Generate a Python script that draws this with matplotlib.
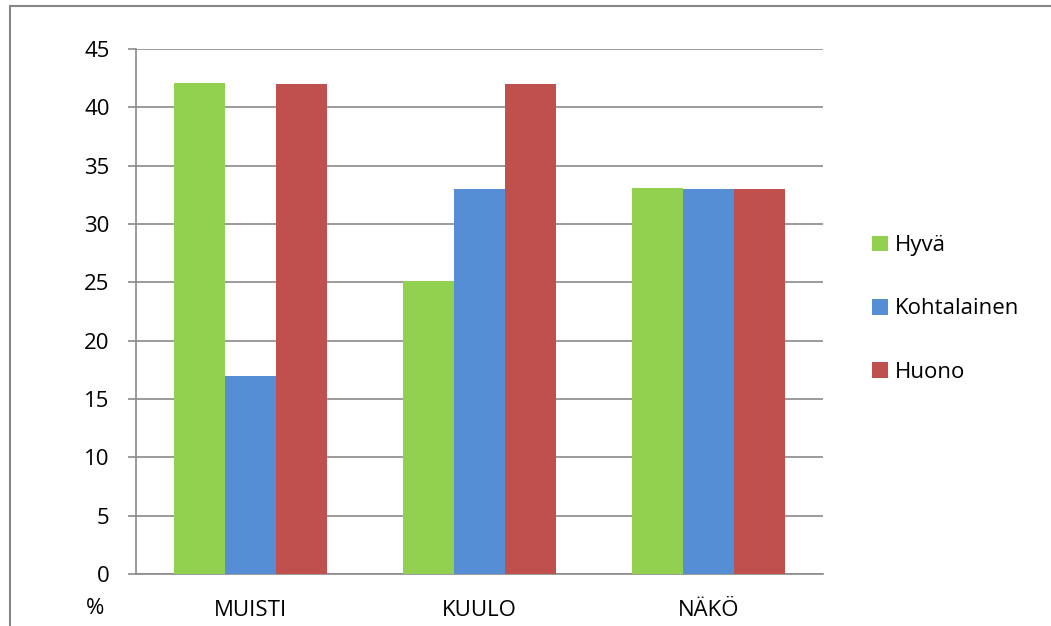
import numpy as np
import matplotlib
matplotlib.use('Agg')
import matplotlib.pyplot as plt
from matplotlib.patches import Rectangle

plt.rcParams['font.family'] = ['Open Sans', 'DejaVu Sans']

categories = ['MUISTI', 'KUULO', 'NÄKÖ']
series = ['Hyvä', 'Kohtalainen', 'Huono']
hyva = [42.1, 25.1, 33.1]
kohtalainen = [17, 33, 33]
huono = [42, 42, 33]
colors = ['#92D050', '#558ED5', '#C0504D']
yticks = [0, 5, 10, 15, 20, 25, 30, 35, 40, 45]

W, H = 1051, 626
fig = plt.figure(figsize=(W / 100, H / 100), dpi=100)
ax = fig.add_axes([136 / W, 1 - 574 / H, (823 - 136) / W, (574 - 49) / H])

grid_c = '#8a8a8a'
x = np.arange(len(categories))
bw = 0.222
for i, (vals, name) in enumerate(zip([hyva, kohtalainen, huono], series)):
    ax.bar(x + (i - 1) * bw, vals, bw, color=colors[i], label=name, zorder=3)

ax.set_xlim(-0.5, 2.5)
ax.set_ylim(0, 45)
ax.set_yticks(yticks)
ax.set_xticks(x)
ax.set_xticklabels(categories)
ax.yaxis.grid(True, color=grid_c, lw=1.2, zorder=0)
ax.tick_params(axis='y', length=6, width=1.2, color=grid_c, pad=13, labelsize=16)
ax.tick_params(axis='x', length=0, pad=19, labelsize=16)
for s in ['top', 'right']:
    ax.spines[s].set_visible(False)
for s in ['left', 'bottom']:
    ax.spines[s].set_color(grid_c)
    ax.spines[s].set_linewidth(1.2)

fig.text(95 / W, 1 - 609 / H, '%', ha='center', va='center', fontsize=16)

ax.legend(loc='center left', bbox_to_anchor=(872 / W, 1 - 309 / H),
          bbox_transform=fig.transFigure, frameon=False, fontsize=16,
          handlelength=0.72, handleheight=0.72, handletextpad=0.3,
          labelspacing=1.9, borderpad=0, borderaxespad=0)

fig.patches.append(Rectangle((10 / W, -0.1), 2, 1 - 5.5 / H + 0.1,
                             transform=fig.transFigure, fill=False,
                             edgecolor='#878787', lw=1.5))

fig.savefig('out.png', dpi=100)
